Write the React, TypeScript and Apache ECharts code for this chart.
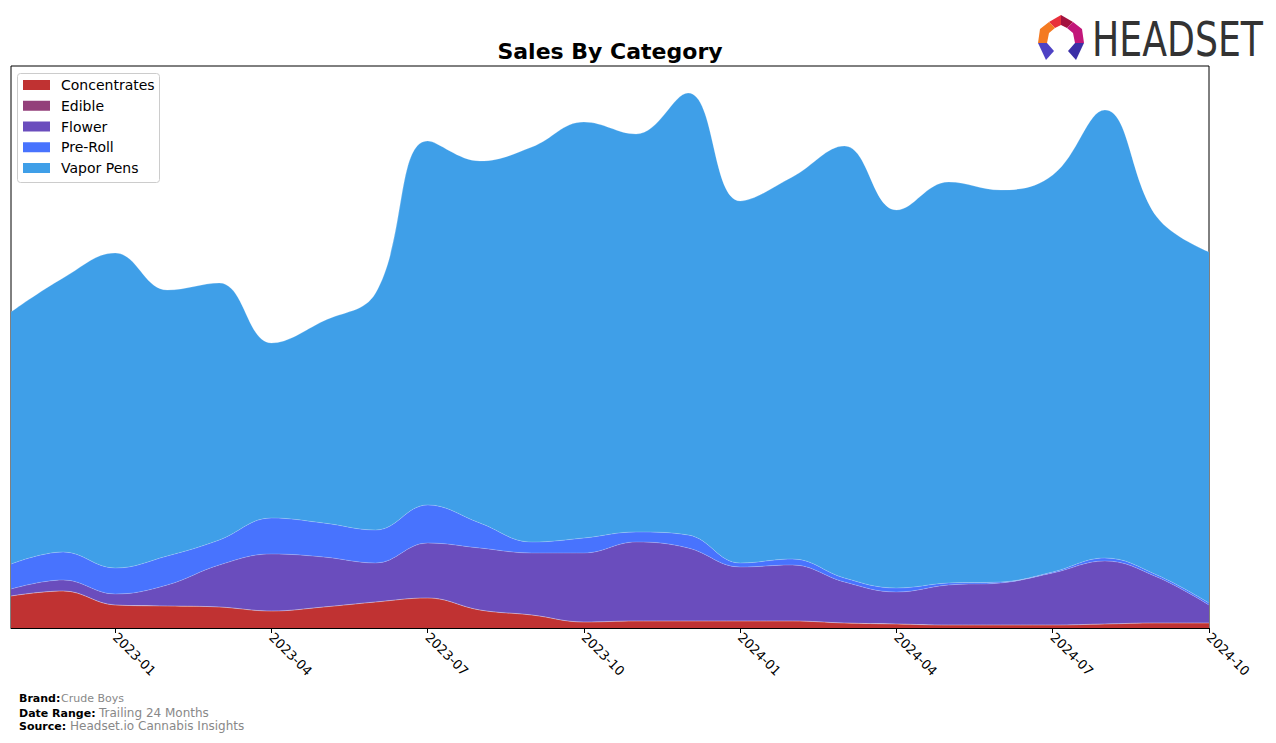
import React, { useEffect, useRef } from "react";
import * as echarts from "echarts";

const months = [
  "2022-11", "2022-12", "2023-01", "2023-02", "2023-03", "2023-04",
  "2023-05", "2023-06", "2023-07", "2023-08", "2023-09", "2023-10",
  "2023-11", "2023-12", "2024-01", "2024-02", "2024-03", "2024-04",
  "2024-05", "2024-06", "2024-07", "2024-08", "2024-09", "2024-10",
];

const seriesNames = ["Concentrates", "Edible", "Flower", "Pre-Roll", "Vapor Pens"];
const seriesColors = ["#C03232", "#933F7A", "#6A4DBD", "#4873FE", "#3F9FE8"];

const concentrates = [32, 37, 23, 22, 21, 17, 21, 26, 30, 18, 13, 6, 7, 7, 7, 7, 5, 4, 3, 3, 3, 4, 5, 5];
const edible = [0, 0, 0, 0, 0, 0, 0, 0, 0, 0, 0, 0, 0, 0, 0, 0, 0, 0, 0, 0, 0, 0, 0, 0];
const flower = [7, 11, 11, 21, 42, 57, 50, 39, 55, 62, 62, 69, 79, 73, 54, 56, 41, 32, 40, 42, 52, 63, 46, 18];
const preRoll = [25, 28, 26, 29, 25, 36, 34, 33, 38, 25, 11, 15, 10, 13, 4, 6, 4, 4, 2, 1, 1, 3, 2, 2];
const vaporPens = [252, 274, 315, 266, 257, 175, 202, 237, 364, 362, 395, 416, 398, 442, 362, 382, 432, 378, 401, 392, 397, 448, 358, 351];

const seriesValues = [concentrates, edible, flower, preRoll, vaporPens];
const yMax = 562;

const FONT = "DejaVu Sans, sans-serif";

const isQuarterTick = (value: string) => /-(01|04|07|10)$/.test(value);

export default function App() {
  const ref = useRef<HTMLDivElement>(null);

  useEffect(() => {
    if (!ref.current) return;
    const chart = echarts.init(ref.current, null, { renderer: "svg" });

    const legendItems: any[] = [
      {
        type: "rect",
        shape: { x: 17.5, y: 73.5, width: 142, height: 109, r: 3 },
        style: { fill: "rgba(255,255,255,0.8)", stroke: "#cccccc", lineWidth: 1 },
        z: 10,
      },
    ];
    seriesNames.forEach((name, i) => {
      const cy = 85 + i * 20.75;
      legendItems.push({
        type: "rect",
        shape: { x: 23, y: cy - 5, width: 27, height: 10 },
        style: { fill: seriesColors[i] },
        z: 11,
      });
      legendItems.push({
        type: "text",
        x: 61,
        y: cy,
        style: {
          text: name,
          fill: "#000",
          font: `14px ${FONT}`,
          textAlign: "left",
          textVerticalAlign: "middle",
        },
        z: 11,
      });
    });

    const option: any = {
      animation: false,
      backgroundColor: "#ffffff",
      grid: {
        left: 11,
        top: 66,
        width: 1198,
        height: 562,
        show: true,
        borderColor: "#000000",
        borderWidth: 1,
        backgroundColor: "transparent",
        containLabel: false,
      },
      xAxis: {
        type: "category",
        data: months,
        boundaryGap: false,
        axisLine: { show: true, lineStyle: { color: "#000", width: 1 } },
        axisTick: {
          show: true,
          length: 5,
          lineStyle: { color: "#000" },
          interval: (_i: number, v: string) => isQuarterTick(v),
        },
        axisLabel: {
          show: true,
          rotate: -45,
          margin: 7,
          color: "#000",
          fontSize: 13,
          fontFamily: FONT,
          interval: (_i: number, v: string) => isQuarterTick(v),
        },
        splitLine: { show: false },
      },
      yAxis: {
        type: "value",
        min: 0,
        max: yMax,
        show: false,
        splitLine: { show: false },
      },
      series: seriesNames.map((name, i) => ({
        name,
        type: "line",
        stack: "total",
        smooth: 0.4,
        showSymbol: false,
        symbol: "none",
        data: seriesValues[i],
        lineStyle: { width: 0.6, color: "rgba(255,255,255,0.35)" },
        areaStyle: { color: seriesColors[i], opacity: 1 },
        itemStyle: { color: seriesColors[i] },
        z: 2,
      })),
      graphic: [
        {
          type: "text",
          x: 610,
          y: 51,
          style: {
            text: "Sales By Category",
            fill: "#000",
            font: `bold 22px ${FONT}`,
            textAlign: "center",
            textVerticalAlign: "middle",
          },
        },
        ...legendItems,
        {
          type: "text",
          x: 19,
          y: 698,
          style: { text: "Brand:", fill: "#000", font: `bold 11px ${FONT}`, textVerticalAlign: "middle" },
        },
        {
          type: "text",
          x: 61,
          y: 698,
          style: { text: "Crude Boys", fill: "#888888", font: `11px ${FONT}`, textVerticalAlign: "middle" },
        },
        {
          type: "text",
          x: 19,
          y: 713,
          style: { text: "Date Range:", fill: "#000", font: `bold 11px ${FONT}`, textVerticalAlign: "middle" },
        },
        {
          type: "text",
          x: 99,
          y: 713,
          style: { text: "Trailing 24 Months", fill: "#888888", font: `12px ${FONT}`, textVerticalAlign: "middle" },
        },
        {
          type: "text",
          x: 19,
          y: 726,
          style: { text: "Source:", fill: "#000", font: `bold 11px ${FONT}`, textVerticalAlign: "middle" },
        },
        {
          type: "text",
          x: 70,
          y: 726,
          style: { text: "Headset.io Cannabis Insights", fill: "#888888", font: `12px ${FONT}`, textVerticalAlign: "middle" },
        },
        {
          type: "group",
          children: [
            { type: "polygon", shape: { points: [[1049, 22], [1061, 15], [1061, 25], [1055, 28]] }, style: { fill: "#E8303C" } },
            { type: "polygon", shape: { points: [[1061, 15], [1073, 22], [1067, 28], [1061, 25]] }, style: { fill: "#A3123F" } },
            { type: "polygon", shape: { points: [[1073, 22], [1082, 29], [1084, 43], [1075, 43], [1073, 33], [1067, 28]] }, style: { fill: "#C2177A" } },
            { type: "polygon", shape: { points: [[1049, 22], [1040, 29], [1038, 43], [1047, 43], [1049, 33], [1055, 28]] }, style: { fill: "#F47A22" } },
            { type: "polygon", shape: { points: [[1038, 43], [1047, 43], [1054, 51], [1046, 60]] }, style: { fill: "#4E42C4" } },
            { type: "polygon", shape: { points: [[1075, 43], [1084, 43], [1076, 60], [1068, 51]] }, style: { fill: "#3B2FA6" } },
          ],
        },
        {
          type: "text",
          x: 1092,
          y: 39,
          scaleX: 0.84,
          style: {
            text: "HEADSET",
            fill: "#333333",
            font: `48px "DejaVu Sans Condensed", "DejaVu Sans", sans-serif`,
            textAlign: "left",
            textVerticalAlign: "middle",
          },
        },
      ],
    };

    chart.setOption(option);
    return () => chart.dispose();
  }, []);

  return (
    <div
      ref={ref}
      style={{ position: "fixed", left: 0, top: 0, width: 1276, height: 743 }}
    />
  );
}
